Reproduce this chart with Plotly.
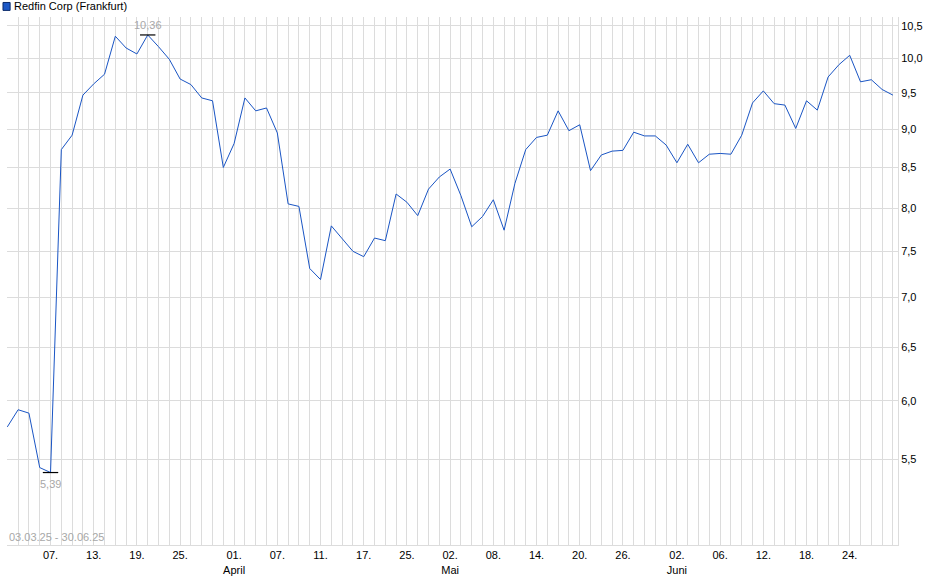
import math
import plotly.graph_objects as go

dates = [
    "2025-03-03","2025-03-04","2025-03-05","2025-03-06","2025-03-07",
    "2025-03-10","2025-03-11","2025-03-12","2025-03-13","2025-03-14",
    "2025-03-17","2025-03-18","2025-03-19","2025-03-20","2025-03-21",
    "2025-03-24","2025-03-25","2025-03-26","2025-03-27","2025-03-28",
    "2025-03-31","2025-04-01","2025-04-02","2025-04-03","2025-04-04",
    "2025-04-07","2025-04-08","2025-04-09","2025-04-10","2025-04-11",
    "2025-04-14","2025-04-15","2025-04-16","2025-04-17",
    "2025-04-22","2025-04-23","2025-04-24","2025-04-25",
    "2025-04-28","2025-04-29","2025-04-30","2025-05-02",
    "2025-05-05","2025-05-06","2025-05-07","2025-05-08","2025-05-09",
    "2025-05-12","2025-05-13","2025-05-14","2025-05-15","2025-05-16",
    "2025-05-19","2025-05-20","2025-05-21","2025-05-22","2025-05-23",
    "2025-05-26","2025-05-27","2025-05-28","2025-05-29","2025-05-30",
    "2025-06-02","2025-06-03","2025-06-04","2025-06-05","2025-06-06",
    "2025-06-09","2025-06-10","2025-06-11","2025-06-12","2025-06-13",
    "2025-06-16","2025-06-17","2025-06-18","2025-06-19","2025-06-20",
    "2025-06-23","2025-06-24","2025-06-25","2025-06-26","2025-06-27",
    "2025-06-30",
]

prices = [
    5.77, 5.92, 5.89, 5.43, 5.39,
    8.73, 8.92, 9.47, 9.63, 9.77,
    10.34, 10.16, 10.07, 10.36, 10.18,
    9.99, 9.70, 9.62, 9.43, 9.39,
    8.50, 8.81, 9.43, 9.25, 9.29,
    8.95, 8.05, 8.02, 7.31, 7.19,
    7.79, 7.64, 7.50, 7.44,
    7.65, 7.62, 8.17, 8.07,
    7.91, 8.23, 8.38, 8.48,
    8.15, 7.78, 7.90, 8.10, 7.74,
    8.30, 8.73, 8.89, 8.92, 9.25,
    8.98, 9.06, 8.46, 8.66, 8.71,
    8.72, 8.96, 8.91, 8.91, 8.79,
    8.56, 8.80, 8.56, 8.67, 8.68,
    8.67, 8.92, 9.36, 9.53, 9.35,
    9.33, 9.01, 9.39, 9.26, 9.73,
    9.91, 10.05, 9.66, 9.69, 9.55,
    9.47,
]

x_labels = {
    "2025-03-07": "07.", "2025-03-13": "13.", "2025-03-19": "19.",
    "2025-03-25": "25.", "2025-04-01": "01.<br>April", "2025-04-07": "07.",
    "2025-04-11": "11.", "2025-04-17": "17.", "2025-04-25": "25.",
    "2025-05-02": "02.<br>Mai", "2025-05-08": "08.", "2025-05-14": "14.",
    "2025-05-20": "20.", "2025-05-26": "26.", "2025-06-02": "02.<br>Juni",
    "2025-06-06": "06.", "2025-06-12": "12.", "2025-06-18": "18.",
    "2025-06-24": "24.",
}

y_ticks = [5.5, 6.0, 6.5, 7.0, 7.5, 8.0, 8.5, 9.0, 9.5, 10.0, 10.5]
y_ticktext = ["5,5", "6,0", "6,5", "7,0", "7,5", "8,0", "8,5", "9,0", "9,5", "10,0", "10,5"]

series_name = "Redfin Corp (Frankfurt)"
period_text = "03.03.25 - 30.06.25"

FONT = "Liberation Sans, Arial, sans-serif"
LINE_COLOR = "#1a55c4"
GRID = "#dcdcdc"

imax = max(range(len(prices)), key=lambda i: prices[i])
imin = min(range(len(prices)), key=lambda i: prices[i])

fig = go.Figure()
fig.add_trace(go.Scatter(
    x=dates, y=prices, mode="lines",
    line=dict(color=LINE_COLOR, width=1),
    showlegend=False, hoverinfo="x+y",
))
# min/max markers
fig.add_trace(go.Scatter(
    x=[dates[imax], dates[imin]], y=[prices[imax], prices[imin]],
    mode="markers",
    marker=dict(symbol="line-ew", size=11, line=dict(color="#000000", width=1.2)),
    showlegend=False, hoverinfo="skip",
))

fig.add_annotation(x=imax, y=math.log10(prices[imax]), xref="x", yref="y",
                   text=f"{prices[imax]:.2f}".replace(".", ","),
                   showarrow=False, yshift=10, font=dict(color="#a8a8a8", size=11, family=FONT))
fig.add_annotation(x=imin, y=math.log10(prices[imin]), xref="x", yref="y",
                   text=f"{prices[imin]:.2f}".replace(".", ","),
                   showarrow=False, yshift=-11, font=dict(color="#a8a8a8", size=11, family=FONT))

# period text bottom-left inside the plot
fig.add_annotation(xref="paper", yref="paper", x=0.0, y=0.0,
                   xanchor="left", yanchor="bottom", text=period_text,
                   showarrow=False, font=dict(color="#a8a8a8", size=11, family=FONT))

# legend-like header
fig.add_shape(type="rect", xref="paper", yref="paper",
              x0=-0.0045, x1=0.0035, y0=1.0125, y1=1.0275,
              fillcolor="#1c58c6", line=dict(color="#0a2a6a", width=1))
fig.add_annotation(xref="paper", yref="paper", x=0.0055, y=1.02,
                   xanchor="left", yanchor="middle", text=series_name,
                   showarrow=False, font=dict(color="#000000", size=11, family=FONT))

fig.update_layout(
    width=940, height=579,
    margin=dict(l=7, r=42, t=17, b=34, autoexpand=False),
    paper_bgcolor="#ffffff", plot_bgcolor="#ffffff",
    font=dict(family=FONT, size=11, color="#000000"),
    showlegend=False,
)

fig.update_xaxes(
    type="category",
    categoryorder="array", categoryarray=dates,
    range=[-0.03, 82.47],
    tickmode="array",
    tickvals=dates,
    ticktext=[x_labels.get(d, "") for d in dates],
    showgrid=True, gridcolor=GRID, gridwidth=1,
    ticks="inside", ticklen=3, tickcolor=GRID,
    showline=True, linecolor=GRID, linewidth=1,
    tickfont=dict(size=11, color="#000000", family=FONT),
    tickangle=0, automargin=False,
    zeroline=False,
)

fig.update_yaxes(
    type="log",
    range=[0.6846, 1.0270],
    side="right",
    tickmode="array", tickvals=y_ticks, ticktext=y_ticktext,
    showgrid=True, gridcolor=GRID, gridwidth=1,
    ticks="", showline=True, linecolor=GRID, linewidth=1,
    mirror=False, automargin=False,
    tickfont=dict(size=11, color="#000000", family=FONT),
    zeroline=False,
)

fig.write_html(
    "out.html",
    config={"displayModeBar": False},
    post_script="document.body.style.margin='0';document.body.style.overflow='hidden';",
)
